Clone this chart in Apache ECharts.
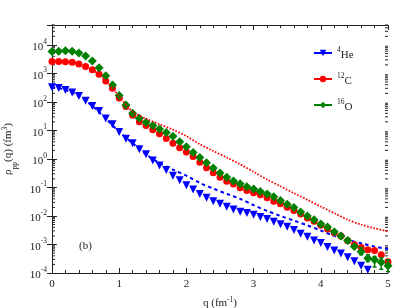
<!DOCTYPE html>
<html><head><meta charset="utf-8">
<script src="https://cdn.jsdelivr.net/npm/echarts@6/dist/echarts.min.js"></script>
<style>html,body{margin:0;padding:0;background:#fff}#c{width:399px;height:308px}</style>
</head><body><div id="c"></div>
<script>
// measured points, q step 0.1
const qPts = [0,0.1,0.2,0.3,0.4,0.5,0.6,0.7,0.8,0.9,1.0,1.1,1.2,1.3,1.4,1.5,1.6,1.7,1.8,1.9,2.0,2.1,2.2,2.3,2.4,2.5,2.6,2.7,2.8,2.9,3.0,3.1,3.2,3.3,3.4,3.5,3.6,3.7,3.8,3.9,4.0,4.1,4.2,4.3,4.4,4.5,4.6,4.7,4.8,4.9,5.0];
const he4 = [330,310,263,214,162,110,72,48,26.3,16.6,8.9,5.1,3.55,2.19,1.45,0.89,0.59,0.41,0.26,0.178,0.120,0.085,0.059,0.044,0.033,0.027,0.021,0.017,0.0141,0.0126,0.0110,0.0093,0.0079,0.0063,0.0051,0.0042,0.0032,0.0024,0.00186,0.00138,0.00112,0.00081,0.00062,0.00048,0.00036,0.00026,0.000178,0.000129];
const c12 = [2630,2630,2570,2450,2140,1740,1350,930,540,300,138,69,34,20.4,14.8,10.5,7.6,5.2,3.55,2.45,1.74,1.23,0.76,0.49,0.33,0.23,0.166,0.132,0.098,0.079,0.065,0.055,0.044,0.033,0.027,0.0204,0.0155,0.0117,0.0085,0.0065,0.0047,0.0035,0.0026,0.0020,0.00135,0.00098,0.00079,0.00066,0.00062,0.00044,0.00025];
const o16 = [5900,6000,6200,6000,5200,4100,2750,1580,830,390,170,78,40,27,19.5,14.8,11.2,8.5,6.2,4.0,2.7,1.7,1.12,0.74,0.48,0.32,0.23,0.17,0.135,0.107,0.089,0.072,0.059,0.047,0.035,0.026,0.020,0.0138,0.0100,0.0074,0.0052,0.0041,0.0028,0.0020,0.00138,0.00085,0.00056,0.00033,0.00029,0.00024,0.00018];
// green error bars
const o16ErrQ = [4.6,4.7,4.8,4.9,5.0];
const o16ErrLow = [0.00044,0.00025,0.000162,0.000135,0.000112];
const o16ErrHigh = [0.00078,0.00044,0.00038,0.00034,0.00029];
// theory curves, q step 0.2
const qLine = [0,0.2,0.4,0.6,0.8,1.0,1.2,1.4,1.6,1.8,2.0,2.2,2.4,2.6,2.8,3.0,3.2,3.4,3.6,3.8,4.0,4.2,4.4,4.6,4.8,5.0];
const he4Line = [330,263,162,72,26.3,8.9,3.55,1.45,0.72,0.42,0.26,0.145,0.091,0.060,0.040,0.024,0.0151,0.0100,0.0069,0.0047,0.0031,0.0020,0.00145,0.0011,0.00085,0.00069];
const c12Line = [2630,2570,2140,1350,560,158,45,25.7,16.6,10.7,6.3,3.3,1.9,1.12,0.65,0.355,0.19,0.110,0.063,0.037,0.0214,0.0126,0.0074,0.0050,0.0037,0.0029];
const xTicks = [0,1,2,3,4,5];

const FONT = 'Liberation Serif';
const zip = (xs, ys) => ys.map((y, i) => [xs[i], y]);
const minorLogTicks = [];
for (let e = -4; e <= 4; e++) for (let m = 2; m <= 9; m++) { const v = m * Math.pow(10, e); if (v <= 5e4) minorLogTicks.push(v); }

const chart = echarts.init(document.getElementById('c'), null, {renderer: 'canvas'});
const supRich = {
  b: {fontFamily: FONT, fontSize: 11, color: '#222', lineHeight: 16, verticalAlign: 'bottom'},
  s: {fontFamily: FONT, fontSize: 7.5, color: '#222', lineHeight: 16, verticalAlign: 'top', padding: [1,0,0,0]}
};
chart.setOption({
  animation: false,
  backgroundColor: '#fff',
  grid: {left: 52, right: 11, top: 25, bottom: 35, containLabel: false, outerBoundsMode: 'none'},
  legend: {
    orient: 'vertical', left: 308, top: 40, itemWidth: 18, itemHeight: 8, itemGap: 10,
    data: [
      {name: '4He', lineStyle: {color: '#0000ff', width: 2, opacity: 1, type: 'solid'}},
      {name: '12C', lineStyle: {color: '#ff0000', width: 2, opacity: 1, type: 'solid'}},
      {name: '16O', lineStyle: {color: '#008000', width: 2, opacity: 1, type: 'solid'}}
    ],
    formatter: n => ({'4He': '{s|4}{b|He}', '12C': '{s|12}{b|C}', '16O': '{s|16}{b|O}'}[n]),
    textStyle: {fontFamily: FONT, rich: supRich}
  },
  xAxis: [{
    type: 'value', min: 0, max: 5, interval: 1,
    axisLine: {lineStyle: {color: '#222'}},
    axisTick: {inside: true, length: 5, lineStyle: {color: '#222'}},
    minorTick: {show: true, splitNumber: 5, length: 3, lineStyle: {color: '#222'}},
    splitLine: {show: false},
    axisLabel: {fontFamily: FONT, fontSize: 11, color: '#222', margin: 6, formatter: v => xTicks.includes(v) ? String(v) : ''},
    name: 'q (fm{s|-1})', nameLocation: 'middle', nameGap: 20,
    nameTextStyle: {fontFamily: FONT, fontSize: 11, color: '#222', rich: supRich}
  }, {
    type: 'value', min: 0, max: 5, interval: 1, position: 'top',
    axisLine: {lineStyle: {color: '#222'}},
    axisTick: {inside: true, length: 5, lineStyle: {color: '#222'}},
    minorTick: {show: true, splitNumber: 5, length: 3, lineStyle: {color: '#222'}},
    splitLine: {show: false}, axisLabel: {show: false}
  }],
  yAxis: [{
    type: 'log', logBase: 10, min: 1e-4, max: 5e4,
    axisLine: {lineStyle: {color: '#222'}},
    axisTick: {inside: true, length: 5, lineStyle: {color: '#222'}},
    splitLine: {show: false},
    axisLabel: {
      fontFamily: FONT, margin: 5,
      formatter: v => { const l = Math.log10(v); const e = Math.round(l); if (Math.abs(l - e) > 1e-6) return ''; return '{b|10}{s|' + e + '}'; },
      rich: supRich
    },
    name: 'ρ{sub|pp}(q) (fm{s|3})', nameLocation: 'middle', nameGap: 32,
    nameTextStyle: {fontFamily: FONT, fontSize: 11, color: '#222', rich: {
      b: supRich.b, s: supRich.s,
      sub: {fontFamily: FONT, fontSize: 7.5, color: '#222', lineHeight: 16, verticalAlign: 'bottom', padding: [0,0,-3,0]}
    }}
  }, {
    type: 'log', logBase: 10, min: 1e-4, max: 5e4, position: 'right',
    axisLine: {lineStyle: {color: '#222'}},
    axisTick: {inside: true, length: 5, lineStyle: {color: '#222'}},
    splitLine: {show: false}, axisLabel: {show: false}
  }],
  graphic: [{type: 'text', left: 79, top: 241, style: {text: '(b)', font: '11px ' + FONT, fill: '#222'}}],
  series: [
    {
      type: 'custom', name: 'minorTicks', silent: true, xAxisIndex: 0, yAxisIndex: 0, z: 1,
      data: minorLogTicks.map(v => [0, v]),
      renderItem: (params, api) => {
        const v = api.value(1);
        const pl = api.coord([0, v]), pr = api.coord([5, v]);
        const st = {stroke: '#222', lineWidth: 1};
        return {type: 'group', children: [
          {type: 'line', shape: {x1: pl[0], y1: pl[1], x2: pl[0] + 3, y2: pl[1]}, style: st},
          {type: 'line', shape: {x1: pr[0] - 3, y1: pr[1], x2: pr[0], y2: pr[1]}, style: st}
        ]};
      }
    },
    {name: '4He', type: 'line', data: zip(qPts, he4), showSymbol: true, symbol: 'triangle', symbolRotate: 180, symbolSize: 8,
     lineStyle: {width: 0, opacity: 0}, itemStyle: {color: '#0000ff'}, z: 3},
    {name: '12C', type: 'line', data: zip(qPts, c12), symbol: 'circle', symbolSize: 7,
     lineStyle: {width: 0, opacity: 0}, itemStyle: {color: '#ff0000'}, z: 3},
    {name: '16O', type: 'line', data: zip(qPts, o16), symbol: 'diamond', symbolSize: 9,
     lineStyle: {width: 0, opacity: 0}, itemStyle: {color: '#008000'}, z: 4},
    {
      type: 'custom', name: 'o16err', z: 4,
      data: o16ErrQ.map((q, i) => [q, o16ErrLow[i], o16ErrHigh[i]]),
      encode: {x: 0, y: [1, 2]},
      renderItem: (params, api) => {
        const a = api.coord([api.value(0), api.value(1)]), b = api.coord([api.value(0), api.value(2)]);
        const st = {stroke: '#008000', lineWidth: 1.5};
        return {type: 'group', children: [
          {type: 'line', shape: {x1: a[0], y1: a[1], x2: b[0], y2: b[1]}, style: st},
          {type: 'line', shape: {x1: a[0] - 2, y1: a[1], x2: a[0] + 2, y2: a[1]}, style: st},
          {type: 'line', shape: {x1: b[0] - 2, y1: b[1], x2: b[0] + 2, y2: b[1]}, style: st}
        ]};
      }
    },
    {name: 'he4Theory', type: 'line', data: zip(qLine, he4Line), showSymbol: false, symbol: 'none', smooth: 0.3,
     lineStyle: {color: '#0000ff', width: 2, type: [3.5, 3.2]}, z: 2},
    {name: 'c12Theory', type: 'line', data: zip(qLine, c12Line), showSymbol: false, symbol: 'none', smooth: 0.3,
     lineStyle: {color: '#ff0000', width: 1.8, type: [1.6, 1.6]}, z: 5}
  ]
});
</script></body></html>
